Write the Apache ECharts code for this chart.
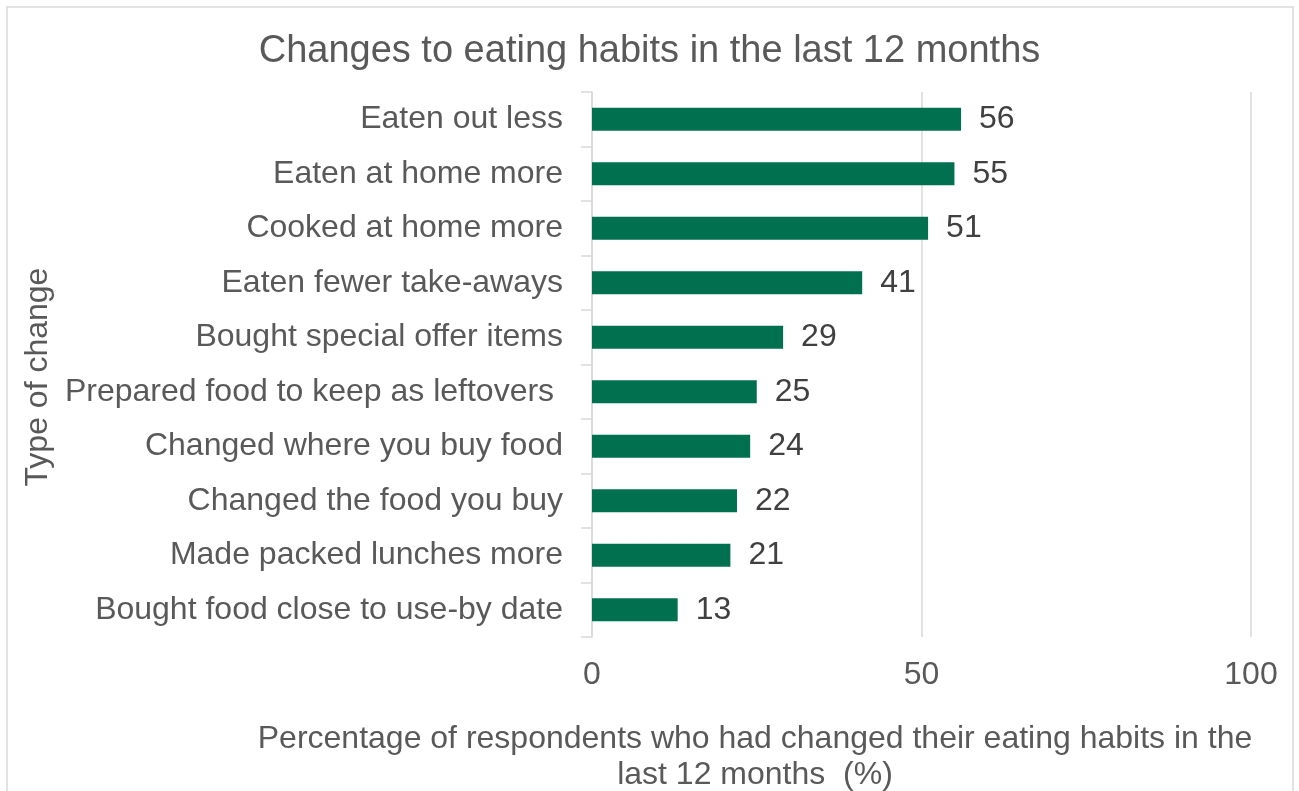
<!DOCTYPE html>
<html>
<head>
<meta charset="utf-8">
<script src="https://cdn.jsdelivr.net/npm/echarts@6/dist/echarts.min.js"></script>
<style>
  html, body { margin: 0; padding: 0; background: #ffffff; }
  #chart { width: 1299px; height: 791px; }
</style>
</head>
<body>
<div id="chart"></div>
<script>
// Survey categories, top to bottom
const categories = [
  'Eaten out less',
  'Eaten at home more',
  'Cooked at home more',
  'Eaten fewer take-aways',
  'Bought special offer items',
  'Prepared food to keep as leftovers ',
  'Changed where you buy food',
  'Changed the food you buy',
  'Made packed lunches more',
  'Bought food close to use-by date'
];
// Percentage of respondents for each change
const percentages = [56, 55, 51, 41, 29, 25, 24, 22, 21, 13];
// Value axis ticks
const xTicks = [0, 50, 100];

const FONT = '"Liberation Sans", Arial, sans-serif';
const GREY = '#595959';
const LINE = '#d9d9d9';

const chart = echarts.init(document.getElementById('chart'));
chart.setOption({
  backgroundColor: '#ffffff',
  animation: false,
  title: {
    text: 'Changes to eating habits in the last 12 months',
    left: 'center',
    top: 28,
    textStyle: { fontFamily: FONT, fontSize: 38, fontWeight: 'normal', color: GREY }
  },
  grid: { left: 592, right: 48, top: 92, bottom: 154, containLabel: false },
  xAxis: {
    type: 'value',
    min: xTicks[0],
    max: xTicks[xTicks.length - 1],
    interval: xTicks[1] - xTicks[0],
    axisLine: { show: false },
    axisTick: { show: false },
    splitLine: { show: true, lineStyle: { color: LINE, width: 1.5 } },
    axisLabel: { margin: 22, color: GREY, fontFamily: FONT, fontSize: 32 }
  },
  yAxis: {
    type: 'category',
    data: categories,
    inverse: true,
    axisLine: { show: true, lineStyle: { color: LINE, width: 1.5 } },
    axisTick: { show: true, length: 11, lineStyle: { color: LINE, width: 1.5 } },
    axisLabel: { margin: 29, color: GREY, fontFamily: FONT, fontSize: 32 }
  },
  series: [{
    type: 'bar',
    data: percentages,
    barWidth: 23,
    itemStyle: { color: '#00704f' },
    label: {
      show: true,
      position: 'right',
      distance: 18,
      color: '#404040',
      fontFamily: FONT,
      fontSize: 32
    }
  }],
  graphic: [
    {
      type: 'rect',
      shape: { x: 7, y: 7, width: 1286, height: 820 },
      style: { fill: 'none', stroke: LINE, lineWidth: 1.5 },
      silent: true
    },
    {
      type: 'text',
      x: 38,
      y: 377,
      rotation: Math.PI / 2,
      style: {
        text: 'Type of change',
        fill: GREY,
        font: '32px ' + FONT,
        textAlign: 'center',
        textVerticalAlign: 'middle'
      }
    },
    {
      type: 'text',
      x: 755,
      y: 757,
      style: {
        text: 'Percentage of respondents who had changed their eating habits in the\nlast 12 months  (%)',
        fill: GREY,
        font: '32px ' + FONT,
        textAlign: 'center',
        textVerticalAlign: 'middle',
        lineHeight: 36
      }
    }
  ]
});
</script>
</body>
</html>
